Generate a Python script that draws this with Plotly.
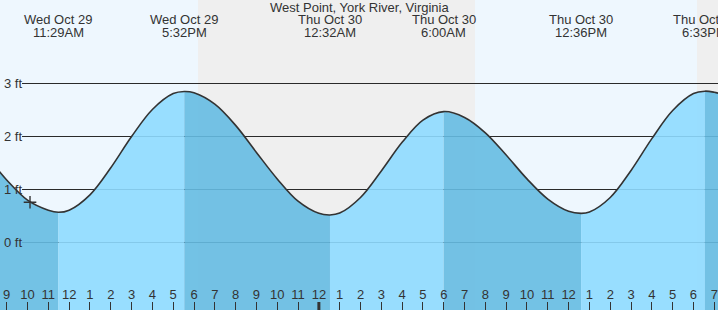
import plotly.graph_objects as go

# ---- data (hours since Wed Oct 29 00:00) ----
times = [8.5, 9, 10, 11, 11.483, 12, 13, 14, 15, 16, 17, 17.533, 18, 19, 20, 21, 22, 23,
         24, 24.533, 25, 26, 27, 28, 29, 30, 31, 32, 33, 34, 35, 36, 36.6, 37, 38, 39,
         40, 41, 42, 42.55, 43, 43.25]
heights = [1.41, 1.18, 0.80, 0.61, 0.57, 0.61, 0.90, 1.41, 2.00, 2.51, 2.81, 2.85, 2.825,
           2.61, 2.21, 1.70, 1.20, 0.78, 0.55, 0.52, 0.555, 0.85, 1.35, 1.89, 2.31, 2.47,
           2.36, 2.07, 1.65, 1.20, 0.82, 0.59, 0.55, 0.575, 0.85, 1.36, 1.96, 2.49, 2.81,
           2.855, 2.835, 2.81]

# high / low tide events
event_times = [11.483, 17.533, 24.533, 30.0, 36.6, 42.55]
event_dates = ["Wed Oct 29", "Wed Oct 29", "Thu Oct 30", "Thu Oct 30", "Thu Oct 30", "Thu Oct 30"]
event_clock = ["11:29AM", "5:32PM", "12:32AM", "6:00AM", "12:36PM", "6:33PM"]

# sunset / sunrise (night spans)
night_spans = [(18.19, 31.50), (42.17, 44.0)]

# current time marker
now_time = 10.12
now_height = 0.76

tick_hours = list(range(9, 44))
tick_text = [str(h % 12 if h % 12 else 12) for h in tick_hours]

grid_levels = [0, 1, 2, 3]
grid_labels = ["0 ft", "1 ft", "2 ft", "3 ft"]

title = "West Point, York River, Virginia"

X_RANGE = [8.678, 43.178]
Y_RANGE = [-1.2734, 4.5756]

DAY = "#eef7fe"
NIGHT = "#efefef"
FALL = "rgba(101,187,226,0.9)"
RISE = "rgba(142,218,255,0.9)"
INK = "#333333"
FONT = "Liberation Sans, Arial, sans-serif"

fig = go.Figure()

# segment fills between tide extremes
bounds = [times[0]] + event_times + [times[-1]]
for i in range(len(bounds) - 1):
    a, b = bounds[i], bounds[i + 1]
    seg_x = [t for t in times if a <= t <= b]
    seg_y = [heights[times.index(t)] for t in seg_x]
    falling = seg_y[-1] < seg_y[0]
    fig.add_trace(go.Scatter(x=[seg_x[0], seg_x[-1]], y=[Y_RANGE[0] - 0.5] * 2,
                             mode="lines", line=dict(width=0), hoverinfo="skip",
                             showlegend=False))
    fig.add_trace(go.Scatter(x=seg_x, y=seg_y, mode="lines", line=dict(width=0, shape="spline"),
                             fill="tonexty", fillcolor=FALL if falling else RISE,
                             hoverinfo="skip", showlegend=False))

# tide curve
fig.add_trace(go.Scatter(x=times, y=heights, mode="lines",
                         line=dict(color=INK, width=1.6, shape="spline"),
                         showlegend=False))

# current-time marker
fig.add_trace(go.Scatter(x=[now_time], y=[now_height], mode="markers",
                         marker=dict(symbol="cross-thin", size=9,
                                     line=dict(color=INK, width=1.4)),
                         showlegend=False))

shapes = []
# day background then night spans
shapes.append(dict(type="rect", xref="paper", yref="paper", x0=0, x1=1, y0=0, y1=1,
                   fillcolor=DAY, line=dict(width=0), layer="below"))
for s, e in night_spans:
    shapes.append(dict(type="rect", xref="x", yref="paper", x0=s, x1=e, y0=0, y1=1,
                       fillcolor=NIGHT, line=dict(width=0), layer="below"))
# grid lines
for lv in grid_levels:
    shapes.append(dict(type="line", xref="paper", yref="y", x0=22 / 718, x1=1, y0=lv, y1=lv,
                       line=dict(color="#2a2a2a", width=1.2), layer="below"))
# midnight tick
shapes.append(dict(type="line", xref="x", yref="paper", x0=24, x1=24, y0=0, y1=8 / 310,
                   line=dict(color=INK, width=3)))

annotations = []
annotations.append(dict(text=title, xref="paper", yref="paper", x=0.5, y=1 - 8 / 310,
                        xanchor="center", yanchor="middle", showarrow=False,
                        font=dict(family=FONT, size=13, color=INK)))
for t, d, c in zip(event_times, event_dates, event_clock):
    annotations.append(dict(text=d, xref="x", yref="paper", x=t, y=1 - 20 / 310,
                            xanchor="center", yanchor="middle", showarrow=False,
                            font=dict(family=FONT, size=13, color=INK)))
    annotations.append(dict(text=c, xref="x", yref="paper", x=t, y=1 - 32.5 / 310,
                            xanchor="center", yanchor="middle", showarrow=False,
                            font=dict(family=FONT, size=13, color=INK)))
for lv, lab in zip(grid_levels, grid_labels):
    annotations.append(dict(text=lab, xref="paper", yref="y", x=2 / 718, y=lv,
                            xanchor="left", yanchor="middle", showarrow=False,
                            font=dict(family=FONT, size=13, color=INK)))

fig.update_layout(
    width=718, height=310,
    margin=dict(l=0, r=0, t=0, b=0),
    paper_bgcolor=DAY, plot_bgcolor=DAY,
    shapes=shapes, annotations=annotations,
    xaxis=dict(range=X_RANGE, tickvals=tick_hours, ticktext=tick_text,
               ticks="inside", ticklen=8, tickwidth=1, tickcolor=INK,
               ticklabelposition="inside", showgrid=False, zeroline=False,
               showline=False, tickfont=dict(family=FONT, size=13, color=INK),
               fixedrange=True),
    yaxis=dict(range=Y_RANGE, showticklabels=False, ticks="", showgrid=False,
               zeroline=False, showline=False, fixedrange=True),
    showlegend=False,
)

fig.write_html("out.html")
